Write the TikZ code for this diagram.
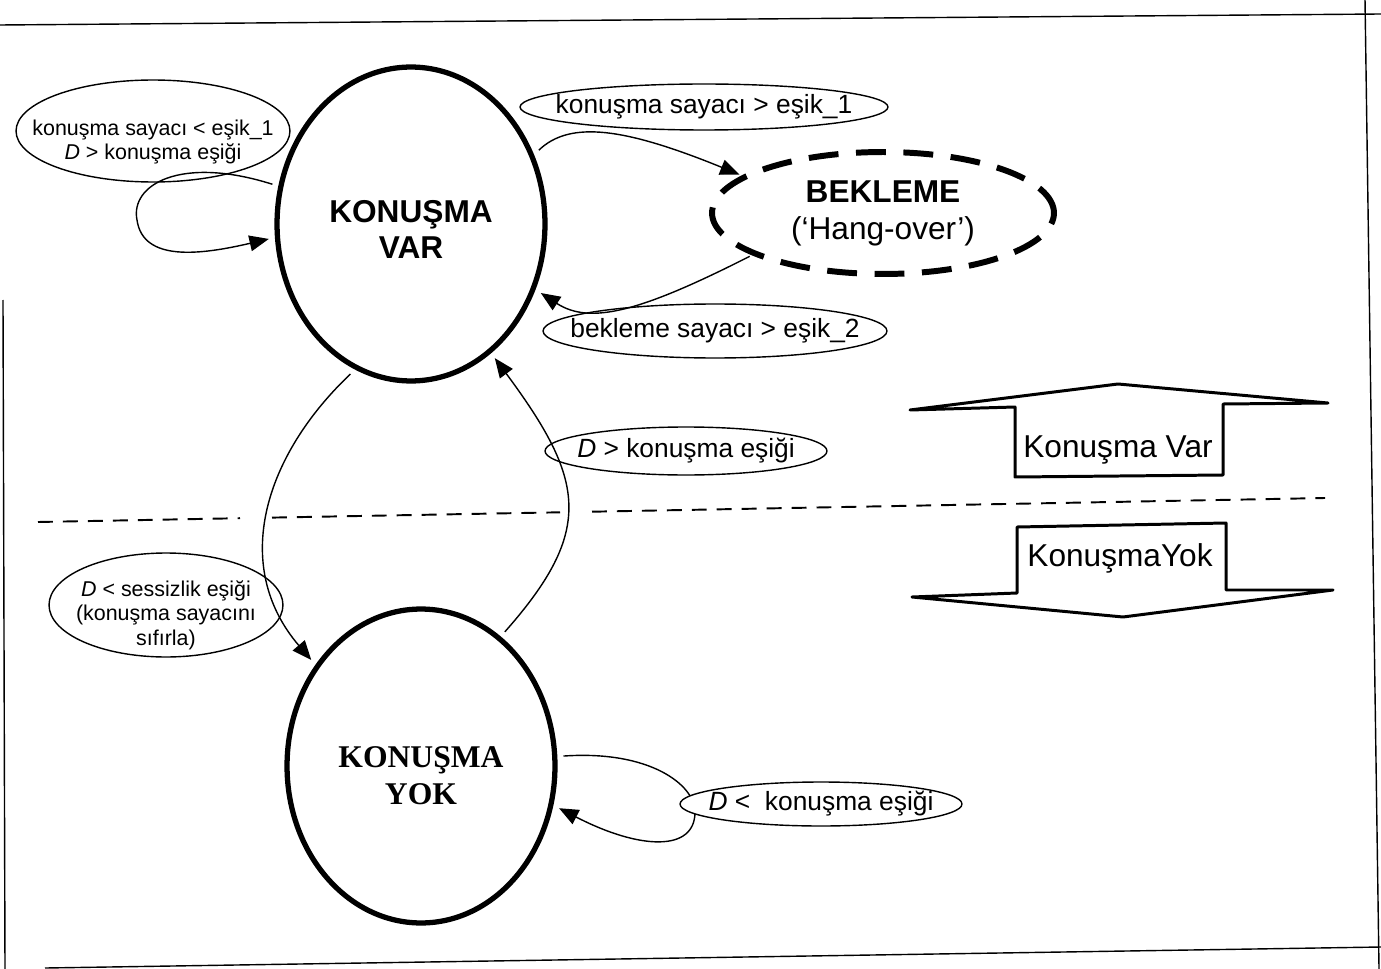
\documentclass[tikz,border=0pt]{standalone}
\usepackage{fontspec}
\setmainfont{Liberation Sans}
\newfontfamily\yokfont{Liberation Serif}
\usetikzlibrary{shapes.geometric, arrows.meta}
\newcommand{\ctext}[2][0pt]{\makebox[0pt]{\raisebox{\dimexpr-0.25em-#1\relax}[0pt][0pt]{\begin{tabular}{@{}c@{}}#2\end{tabular}}}}

\begin{document}
\begin{tikzpicture}[x=0.02cm, y=-0.02cm, >={Triangle[length=11pt, width=9pt]},
            st/.style={ellipse, draw, line width=3pt, minimum width=5.36cm, minimum height=6.28cm, inner sep=0pt, outer sep=5pt, font=\bfseries\fontsize{18}{21}\selectfont},
            hg/.style={ellipse, draw, line width=3.4pt, dash pattern=on 17pt off 10pt, minimum width=6.84cm, minimum height=2.44cm, inner sep=0pt, outer sep=3pt, align=center, font=\fontsize{18}{21}\selectfont},
            cd/.style={ellipse, draw, line width=0.8pt, inner sep=0pt, font=\fontsize{15}{17}\selectfont},
            ed/.style={->, line width=0.8pt},
            bk/.style={draw, line width=1.7pt, line join=round},
            dv/.style={line width=1.1pt, dash pattern=on 8.5pt off 5.7pt}]
            \useasboundingbox (0,0) rectangle (1381,969);
            \draw[line width=0.8pt] (0,25) -- (1381,14);
            \draw[line width=0.8pt] (1365,0) -- (1379,969);
            \draw[line width=0.8pt] (45,968) -- (1381,947);
            \draw[line width=0.8pt] (3,300) -- (5,969);
            \node[st] (var) at (411,224) {\ctext[5pt]{KONUŞMA\\VAR}};
            \node[st, font=\yokfont\bfseries\fontsize{18}{21}\selectfont] (yok) at (421,766) {\ctext[6.8pt]{KONUŞMA\\YOK}};
            \node[hg] (bek) at (883,213) {\textbf{BEKLEME}\\(‘Hang-over’)};
            \node[cd, minimum width=5.48cm, minimum height=2.04cm, font=\fontsize{12.2}{13.5}\selectfont] (c1) at (153,131) {\ctext[6.8pt]{konuşma sayacı < eşik\_1\\\textit{D} > konuşma eşiği}};
            \node[cd, minimum width=7.36cm, minimum height=0.92cm] (c2) at (704,107) {\ctext{konuşma sayacı > eşik\_1}};
            \node[cd, minimum width=6.88cm, minimum height=1.08cm] (c3) at (715,331) {\ctext{bekleme sayacı > eşik\_2}};
            \node[cd, minimum width=5.64cm, minimum height=0.96cm] (c4) at (686,451) {\ctext{\textit{D} > konuşma eşiği}};
            \node[cd, minimum width=4.68cm, minimum height=2.08cm, font=\fontsize{12.2}{14}\selectfont] (c5) at (166,605) {\ctext[6.2pt]{\textit{D} < sessizlik eşiği\\(konuşma sayacını\\sıfırla)}};
            \draw[ed] (var.164) .. controls (180,155) and (130,185) .. (137,220) .. controls (143,262) and (200,255) .. (var.186);
            \draw[ed] (var.30) .. controls (570,120) and (625,128) .. (bek.165);
            \draw[ed] (bek.198) .. controls (640,312) and (590,325) .. (var.-28);
            \draw[ed] (var.248) .. controls (265,455) and (230,565) .. (yok.136);
            \draw[ed] (yok.58) .. controls (595,530) and (585,480) .. (var.-58);
            \draw[ed] (yok.4) .. controls (650,750) and (695,785) .. (695,812) .. controls (695,852) and (640,850) .. (yok.-17);
            \node[cd, fill=white, minimum width=5.64cm, minimum height=0.88cm] (c6) at (821,804) {\ctext{\textit{D} <~ konuşma eşiği}};
            \draw[dv] (38,522) -- (240,518.2);
            \draw[dv] (272,517.6) -- (560,512.3);
            \draw[dv] (592,511.7) -- (1325,498);
            \draw[bk] (910,410) -- (1015,407) -- (1015,477) -- (1223,475) -- (1223,404) -- (1328,403) -- (1118,384) -- cycle;
            \node[font=\fontsize{18}{21}\selectfont] (kvar) at (1118,450) {Konuşma Var};
            \draw[bk] (1017,527) -- (1226,523) -- (1226,590) -- (1333,590) -- (1123,617) -- (912,597) -- (1017,593) -- cycle;
            \node[font=\fontsize{18}{21}\selectfont] (kyok) at (1120,558) {KonuşmaYok};
        \end{tikzpicture}
\end{document}
